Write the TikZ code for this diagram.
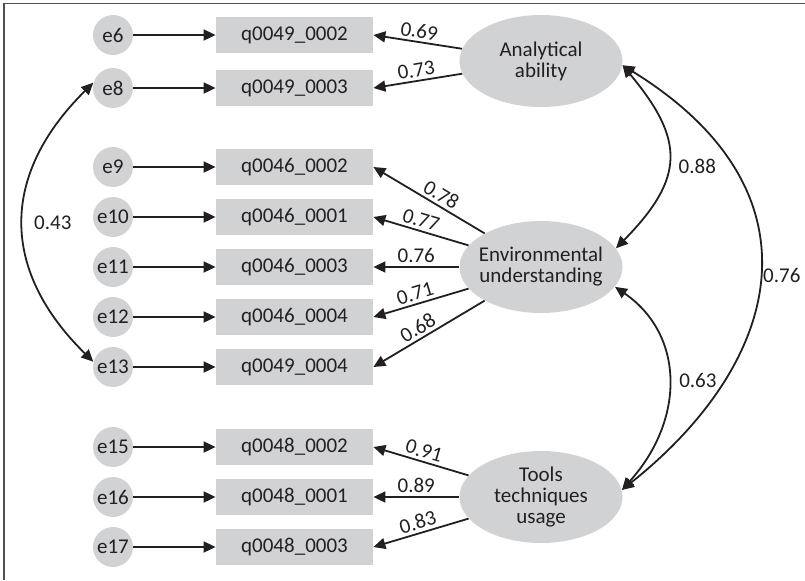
\documentclass[tikz,border=0pt]{standalone}
\usepackage{fontspec}
\setmainfont{Carlito}
\usetikzlibrary{arrows.meta,shapes.geometric}
\definecolor{boxgray}{RGB}{209,210,212}
\definecolor{ink}{RGB}{35,31,32}
\definecolor{framegray}{RGB}{80,80,80}
\begin{document}
\begin{tikzpicture}[x=0.5pt,y=-0.5pt,
  font=\fontsize{10.5}{10.5}\selectfont,
  err/.style={circle, fill=boxgray, minimum size=20pt, inner sep=0pt, text=ink},
  obs/.style={rectangle, fill=boxgray, minimum width=78.5pt, minimum height=18pt, inner sep=0pt, text=ink},
  lat/.style={ellipse, fill=boxgray, minimum width=81.5pt, minimum height=46pt, inner xsep=-14pt, inner ysep=-2pt, align=center, text=ink},
  arr/.style={-{Triangle[length=6pt,width=5.5pt]}, line width=0.9pt, draw=ink},
  arrL/.style={{Triangle[length=6pt,width=5.5pt]}-, line width=0.9pt, draw=ink},
  corr/.style={{Triangle[length=6pt,width=5.5pt]}-{Triangle[length=6pt,width=5.5pt]}, line width=0.9pt, draw=ink},
  lbl/.style={text=ink, inner sep=1.5pt}]
\useasboundingbox (0,0) rectangle (805,580);
\draw[line width=0.8pt, draw=framegray] (4,580) -- (4,3.5) -- (805,3.5);

% error terms
\foreach \n/\y in {6/35,8/88,9/167,10/217,11/267,12/317,13/367,15/447,16/497,17/547}{
  \node[err] (e\n) at (113,\y) {e\n};
}
% observed
\node[obs] (q1)  at (294.5,35)  {q0049\_0002};
\node[obs] (q2)  at (294.5,88)  {q0049\_0003};
\node[obs] (q3)  at (294.5,167) {q0046\_0002};
\node[obs] (q4)  at (294.5,217) {q0046\_0001};
\node[obs] (q5)  at (294.5,267) {q0046\_0003};
\node[obs] (q6)  at (294.5,317) {q0046\_0004};
\node[obs] (q7)  at (294.5,367) {q0049\_0004};
\node[obs] (q8)  at (294.5,447) {q0048\_0002};
\node[obs] (q9)  at (294.5,497) {q0048\_0001};
\node[obs] (q10) at (294.5,547) {q0048\_0003};

% latent
\node[lat] (A) at (541,61)  {Analytical\\ability};
\node[lat] (E) at (541,267) {Environmental\\understanding};
\node[lat] (T) at (541,497) {Tools\\techniques\\usage};

% error arrows
\draw[arr] (e6) -- (q1);
\draw[arr] (e8) -- (q2);
\draw[arr] (e9) -- (q3);
\draw[arr] (e10) -- (q4);
\draw[arr] (e11) -- (q5);
\draw[arr] (e12) -- (q6);
\draw[arr] (e13) -- (q7);
\draw[arr] (e15) -- (q8);
\draw[arr] (e16) -- (q9);
\draw[arr] (e17) -- (q10);

% loadings
\draw[arrL] (q1.east) -- (A) node[lbl, midway, above, sloped] {0.69};
\draw[arrL] (q2.east) -- (A) node[lbl, midway, above, sloped] {0.73};
\draw[arrL] (q3.east) -- (E) node[lbl, pos=0.56, above, sloped] {0.78};
\draw[arrL] (q4.east) -- (E) node[lbl, pos=0.47, above, sloped] {0.77};
\draw[arrL] (q5.east) -- (E) node[lbl, midway, above, sloped] {0.76};
\draw[arrL] (q6.east) -- (E) node[lbl, pos=0.47, above, sloped] {0.71};
\draw[arrL] (q7.east) -- (E) node[lbl, pos=0.45, above, sloped] {0.68};
\draw[arrL] (q8.east) -- (T) node[lbl, midway, above, sloped] {0.91};
\draw[arrL] (q9.east) -- (T) node[lbl, midway, above, sloped] {0.89};
\draw[arrL] (q10.east) -- (T) node[lbl, midway, above, sloped] {0.83};

% correlations
\draw[corr] (A.-3) .. controls (685,140) and (685,178) .. (E.14) node[lbl, pos=0.55, right, inner sep=5pt] {0.88};
\draw[corr] (E.-15) .. controls (685,335) and (685,420) .. (T.5) node[lbl, pos=0.5, right, inner sep=5pt] {0.63};
\draw[corr] (A.-3) .. controls (825,190) and (785,360) .. (T.5) node[lbl, pos=0.5, right, inner sep=1.5pt] {0.76};
\draw[corr] (e8.165) .. controls (0,175) and (0,270) .. (e13.165) node[lbl, pos=0.5, right, inner sep=5pt] {0.43};
\end{tikzpicture}
\end{document}
